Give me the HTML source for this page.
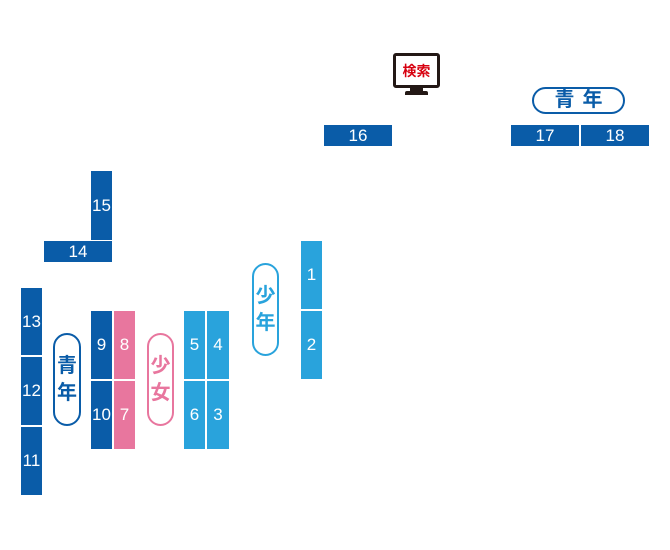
<!DOCTYPE html>
<html><head><meta charset="utf-8"><style>
body{margin:0;width:670px;height:550px;background:#fff;position:relative;overflow:hidden;font-family:"Liberation Sans","Noto Sans CJK JP",sans-serif}
.b{position:absolute;color:#fff;font-size:17px;display:flex;align-items:center;justify-content:center}
.d{background:#0a5ca8}.l{background:#29a3dc}.p{background:#e8769e}
.pill{position:absolute;box-sizing:border-box;border:2px solid;border-radius:14px;background:#fff;display:flex;flex-direction:column;align-items:center;justify-content:center;font-weight:bold;font-size:20px;line-height:27px}
</style></head><body>
<div class="b d" style="left:91px;top:171px;width:21px;height:69px">15</div>
<div class="b d" style="left:44px;top:241px;width:68px;height:21px">14</div>
<div class="b d" style="left:21px;top:288px;width:21px;height:67px">13</div>
<div class="b d" style="left:21px;top:357px;width:21px;height:68px">12</div>
<div class="b d" style="left:21px;top:427px;width:21px;height:68px">11</div>
<div class="b d" style="left:91px;top:311px;width:21px;height:68px">9</div>
<div class="b d" style="left:91px;top:381px;width:21px;height:68px">10</div>
<div class="b p" style="left:114px;top:311px;width:21px;height:68px">8</div>
<div class="b p" style="left:114px;top:381px;width:21px;height:68px">7</div>
<div class="b l" style="left:184px;top:311px;width:21px;height:68px">5</div>
<div class="b l" style="left:207px;top:311px;width:22px;height:68px">4</div>
<div class="b l" style="left:184px;top:381px;width:21px;height:68px">6</div>
<div class="b l" style="left:207px;top:381px;width:22px;height:68px">3</div>
<div class="b l" style="left:301px;top:241px;width:21px;height:68px">1</div>
<div class="b l" style="left:301px;top:311px;width:21px;height:68px">2</div>
<div class="b d" style="left:324px;top:125px;width:68px;height:21px">16</div>
<div class="b d" style="left:511px;top:125px;width:68px;height:21px">17</div>
<div class="b d" style="left:581px;top:125px;width:68px;height:21px">18</div>
<div class="pill" style="left:53px;top:333px;width:28px;height:93px;border-color:#0a5ca8;color:#0a5ca8"><span>青</span><span>年</span></div>
<div class="pill" style="left:147px;top:333px;width:27px;height:93px;border-color:#e8769e;color:#e8769e"><span>少</span><span>女</span></div>
<div class="pill" style="left:252px;top:263px;width:27px;height:93px;border-color:#29a3dc;color:#29a3dc"><span>少</span><span>年</span></div>
<div class="pill" style="left:532px;top:87px;width:93px;height:27px;border-color:#0a5ca8;color:#0a5ca8;flex-direction:row;letter-spacing:8px;padding-left:8px">青年</div>
<div style="position:absolute;left:393px;top:53px;width:47px;height:35px;box-sizing:border-box;border:3px solid #231815;border-radius:3px;background:#fff;color:#d7000f;font-weight:bold;font-size:14px;display:flex;align-items:center;justify-content:center">検索</div>
<div style="position:absolute;left:410px;top:88px;width:13px;height:4px;background:#231815"></div>
<div style="position:absolute;left:405px;top:91px;width:23px;height:4px;background:#231815;border-radius:2px 2px 0 0"></div>
</body></html>
